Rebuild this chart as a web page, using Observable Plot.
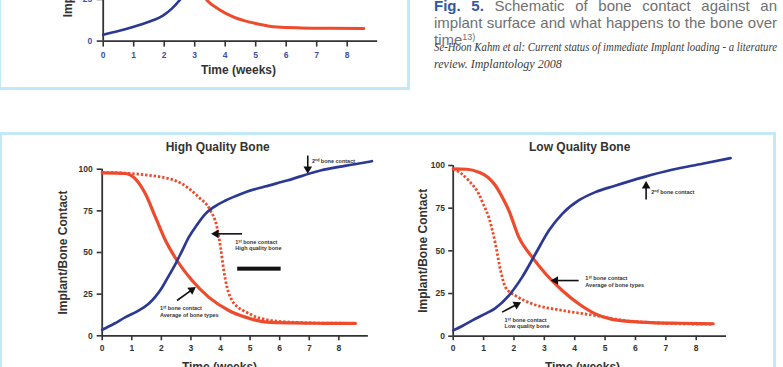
<!DOCTYPE html>
<html>
<head>
<meta charset="utf-8">
<script src="https://cdn.jsdelivr.net/npm/d3@7"></script>
<script src="https://cdn.jsdelivr.net/npm/@observablehq/plot@0.6"></script>
<style>
html, body { margin: 0; padding: 0; background: #fff; }
body { width: 783px; height: 367px; overflow: hidden; position: relative; }
.box { position: absolute; border: 3px solid #c3e8f8; box-sizing: border-box; }
.chart { position: absolute; }
#caption { position: absolute; left: 434px; top: -3px; width: 343px; font-family: "Liberation Sans", Arial, sans-serif; font-size: 15px; line-height: 17px; color: #707070; }
#caption .fig { color: #2d5aa6; font-weight: bold; }
#caption sup { font-size: 9px; line-height: 0; vertical-align: 5px; }
#cite { position: absolute; left: 434px; top: 38.5px; width: 343px; font-family: "Liberation Serif", "Times New Roman", serif; font-style: italic; font-size: 12px; line-height: 17px; color: #3c3c3c; }
.jl { white-space: nowrap; display: inline-block; transform-origin: 0 0; }
.line { height: 17px; white-space: nowrap; }
</style>
</head>
<body>
<div class="box" style="left:-2px; top:-20px; width:412px; height:110px;"></div>
<div class="box" style="left:-1px; top:131.5px; width:777px; height:300px;"></div>

<div id="caption">
  <div class="line"><span class="jl" data-w="343"><span class="fig">Fig. 5.</span> Schematic of bone contact against an</span></div>
  <div class="line"><span class="jl" data-w="343">implant surface and what happens to the bone over</span></div>
  <div class="line">time<sup>13)</sup>.</div>
</div>
<div id="cite">
  <div class="line"><span class="jl" data-w="343">Se-Hoon Kahm et al: Current status of immediate Implant loading - a literature</span></div>
  <div class="line">review. Implantology 2008</div>
</div>

<div id="chartTop" class="chart" style="left:0px; top:-135.9px;"></div>
<div id="chartHQ" class="chart" style="left:0px; top:135px;"></div>
<div id="chartLQ" class="chart" style="left:390px; top:135px;"></div>

<script>
// ---------- data (weeks, implant/bone contact) ----------
const xTicks = [0, 1, 2, 3, 4, 5, 6, 7, 8];
const yTicks = [0, 25, 50, 75, 100];

// Fig. 5 (partially visible chart at top)
const fig5Blue = [[0, 3.8], [0.5, 6], [0.97, 8.4], [1.5, 11.6], [1.97, 15.4], [2.25, 19.5], [2.5, 24.4], [2.7, 29]];
const fig5Red = [[3.3, 27], [3.41, 24.4], [3.8, 19], [4.28, 14.4], [4.65, 12.1], [5.04, 10.4], [5.4, 9.1], [5.7, 8.4], [6.5, 7.9], [7.5, 7.7], [8.55, 7.6]];

// High quality bone
const hqBlue = [[0, 3.6], [0.4, 7.2], [0.79, 11.2], [1.2, 14.8], [1.57, 19.2], [1.8, 23.5], [2.03, 29.2], [2.25, 36], [2.48, 43.2], [2.7, 51], [2.93, 59.2], [3.2, 66.5], [3.49, 73.2], [3.8, 77.6], [4.17, 81.2], [4.5, 83.8], [4.84, 86.2], [5.5, 89.6], [6.25, 93.2], [7.38, 99.2], [8.2, 102], [9.12, 104.8]];
const hqAverage = [[0, 97.8], [0.5, 97.7], [0.79, 97.4], [1.12, 94.2], [1.46, 85.2], [1.8, 71.2], [2.14, 57.2], [2.53, 45.2], [3.04, 33.2], [3.6, 23.2], [4.28, 15.2], [4.84, 11.2], [5.57, 8.2], [6.5, 7.7], [7.5, 7.5], [8.56, 7.4]];
const hqHigh = [[0, 98], [0.6, 97.8], [1.12, 97.2], [1.6, 96.3], [2.03, 95.2], [2.7, 91.2], [3.26, 83.2], [3.66, 75.2], [3.88, 65.2], [4.0, 53.2], [4.11, 39.2], [4.22, 29.2], [4.39, 21.2], [4.6, 17], [4.84, 14.5], [5.35, 10.5], [6.35, 8.2], [7.5, 7.6], [8.56, 7.5]];

// Low quality bone
const lqBlue = [[0, 3.4], [0.3, 6], [0.73, 10.2], [1.1, 13.5], [1.39, 16.5], [1.83, 23.8], [2.27, 34.6], [2.71, 48.3], [3.15, 61.9], [3.59, 71.7], [4.13, 79.5], [4.68, 84.4], [5.3, 88], [6.27, 93.2], [7.2, 97.5], [8.2, 101], [9.13, 104.3]];
const lqAverage = [[0, 98], [0.45, 97.8], [0.84, 96.1], [1.15, 93], [1.39, 88.3], [1.6, 82], [1.83, 73.7], [2.16, 58], [2.6, 46.3], [3.04, 36.6], [3.59, 26.8], [4.13, 19], [4.68, 13.1], [5.2, 10], [5.61, 9], [6.5, 8], [7.5, 7.6], [8.56, 7.3]];
const lqLow = [[0, 98], [0.25, 95.5], [0.51, 91.2], [0.84, 83.4], [1.0, 77], [1.17, 69.7], [1.39, 54.1], [1.56, 38.5], [1.72, 28.7], [2.05, 23.8], [2.6, 19], [3.59, 15.1], [4.68, 12.1], [5.5, 9.5], [6.5, 8], [7.5, 7.3], [8.56, 7]];

// annotations (anchor points in data units)
const hqNotes = [
  {x: 7.09, y: 105.2, text: "2ⁿᵈ bone contact"},
  {x: 4.5, y: 54.6, text: "1ˢᵗ bone contact\nHigh quality bone"},
  {x: 1.95, y: 14.6, text: "1ˢᵗ bone contact\nAverage of bone types"}
];
const hqArrows = [
  {x1: 6.95, y1: 108.2, x2: 6.95, y2: 100.2},
  {x1: 4.73, y1: 61.2, x2: 3.85, y2: 61.2},
  {x1: 2.53, y1: 21.2, x2: 3.03, y2: 27.6}
];
const hqBars = [{x1: 4.58, x2: 6.05, y1: 38.8, y2: 41.2}];

const lqNotes = [
  {x: 6.52, y: 84.8, text: "2ⁿᵈ bone contact"},
  {x: 4.35, y: 32.2, text: "1ˢᵗ bone contact\nAverage of bone types"},
  {x: 1.69, y: 7.7, text: "1ˢᵗ bone contact\nLow quality bone"}
];
const lqArrows = [
  {x1: 6.35, y1: 80.1, x2: 6.35, y2: 88},
  {x1: 4.13, y1: 32.6, x2: 3.37, y2: 32.6},
  {x1: 1.61, y1: 14.1, x2: 2.09, y2: 18.6}
];

const yLabel = "Implant/Bone Contact";
const xLabel = "Time (weeks)";

// ---------- styles ----------
const RED = "#ee4a2c", BLUE = "#2c3992", INK = "#333333", TICKBLUE = "#3d4fa3";
const FONT = "'Liberation Sans', Arial, Helvetica, sans-serif";

function axesMarks({tickPad, tickSize = 5, labelColor = INK}) {
  return [
    Plot.ruleY([0], {stroke: INK, strokeWidth: 1.8}),
    Plot.ruleX([0], {stroke: INK, strokeWidth: 1.8}),
    Plot.axisX({ticks: xTicks, tickSize, tickFormat: () => "", color: INK, strokeWidth: 1.6, label: null}),
    Plot.axisY({ticks: yTicks, tickSize, tickFormat: () => "", color: INK, strokeWidth: 1.6, label: null}),
    Plot.axisX({ticks: xTicks, tickSize: 0, tickPadding: tickSize + tickPad, color: labelColor, fontSize: 8.5, fontWeight: "bold", label: null}),
    Plot.axisY({ticks: yTicks, tickSize: 0, tickPadding: tickSize + tickPad, color: labelColor, fontSize: 8.5, fontWeight: "bold", label: null})
  ];
}

function curve(data, opts) {
  return Plot.line(data, {x: d => d[0], y: d => d[1], curve: "monotone-x", strokeLinejoin: "round", ...opts});
}

// arrows: shaft + filled triangular head; kx, ky = pixels per data unit of the chart
function arrowMarks(arrows, kx, ky) {
  const rot = d => 90 - Math.atan2((d.y2 - d.y1) * ky, (d.x2 - d.x1) * kx) * 180 / Math.PI;
  return [
    Plot.link(arrows, {x1: "x1", y1: "y1", x2: "x2", y2: "y2", stroke: "#111", strokeWidth: 1.6}),
    Plot.dot(arrows, {x: "x2", y: "y2", symbol: "triangle", r: 3.2, fill: "#111", stroke: "none", rotate: rot})
  ];
}

function plotOptions(o) {
  return {
    width: o.width, height: o.height,
    marginLeft: o.ml, marginRight: o.mr, marginTop: o.mt, marginBottom: o.mb,
    x: {domain: [0, 9]},
    y: {domain: [0, 100]},
    style: {fontFamily: FONT, background: "transparent", color: INK, overflow: "visible"}
  };
}
const kxOf = o => (o.width - o.ml - o.mr) / 9;
const kyOf = o => (o.height - o.mt - o.mb) / 100;

// ---------- Fig. 5 (partial) ----------
{
  const o = {width: 405, height: 221.9, ml: 102.7, mr: 27.8, mt: 10, mb: 45.3};
  const p = Plot.plot({
    ...plotOptions(o),
    marks: [
      ...axesMarks({tickPad: 5, tickSize: 6, labelColor: TICKBLUE}),
      curve(fig5Red, {stroke: RED, strokeWidth: 3}),
      curve(fig5Blue, {stroke: BLUE, strokeWidth: 2.6}),
      Plot.text([yLabel], {frameAnchor: "left", rotate: -90, textAnchor: "middle", lineAnchor: "middle", dx: -34.7, dy: -2.5, fontSize: 12, fontWeight: "bold", fill: INK}),
      Plot.text([xLabel], {frameAnchor: "bottom", textAnchor: "middle", lineAnchor: "middle", dx: -2, dy: 29.1, fontSize: 12, fontWeight: "bold", fill: INK})
    ]
  });
  document.getElementById("chartTop").append(p);
}

// ---------- High quality bone ----------
{
  const o = {width: 390, height: 232, ml: 101.7, mr: 22.1, mt: 33.7, mb: 31.7};
  const p = Plot.plot({
    ...plotOptions(o),
    marks: [
      ...axesMarks({tickPad: 4.5}),
      curve(hqHigh, {stroke: RED, strokeWidth: 2.8, strokeDasharray: "2.4,1.9", strokeLinecap: "butt"}),
      curve(hqAverage, {stroke: RED, strokeWidth: 3.2}),
      curve(hqBlue, {stroke: BLUE, strokeWidth: 2.7}),
      Plot.rect(hqBars, {x1: "x1", x2: "x2", y1: "y1", y2: "y2", fill: "#111"}),
      ...arrowMarks(hqArrows, kxOf(o), kyOf(o)),
      Plot.text(hqNotes, {x: "x", y: "y", text: "text", textAnchor: "start", lineAnchor: "middle", fontSize: 5.5, fontWeight: "bold", lineHeight: 1.2, fill: INK}),
      Plot.text(["High Quality Bone"], {frameAnchor: "top", textAnchor: "middle", lineAnchor: "middle", dx: -17.6, dy: -22.2, fontSize: 12, fontWeight: "bold", fill: INK}),
      Plot.text([yLabel], {frameAnchor: "left", rotate: -90, textAnchor: "middle", lineAnchor: "middle", dx: -38.7, fontSize: 12, fontWeight: "bold", fill: INK}),
      Plot.text([xLabel], {frameAnchor: "bottom", textAnchor: "middle", lineAnchor: "middle", dx: -15.8, dy: 31.7, fontSize: 12, fontWeight: "bold", fill: INK})
    ]
  });
  document.getElementById("chartHQ").append(p);
}

// ---------- Low quality bone ----------
{
  const o = {width: 383, height: 232, ml: 62.7, mr: 46.9, mt: 30, mb: 31.3};
  const p = Plot.plot({
    ...plotOptions(o),
    marks: [
      ...axesMarks({tickPad: 3.8, tickSize: 4.5}),
      curve(lqLow, {stroke: RED, strokeWidth: 2.8, strokeDasharray: "2.4,1.9", strokeLinecap: "butt"}),
      curve(lqAverage, {stroke: RED, strokeWidth: 3.2}),
      curve(lqBlue, {stroke: BLUE, strokeWidth: 2.7}),
      ...arrowMarks(lqArrows, kxOf(o), kyOf(o)),
      Plot.text(lqNotes, {x: "x", y: "y", text: "text", textAnchor: "start", lineAnchor: "middle", fontSize: 5.5, fontWeight: "bold", lineHeight: 1.2, fill: INK}),
      Plot.text(["Low Quality Bone"], {frameAnchor: "top", textAnchor: "middle", lineAnchor: "middle", dx: -10.2, dy: -18.5, fontSize: 12, fontWeight: "bold", fill: INK}),
      Plot.text([yLabel], {frameAnchor: "left", rotate: -90, textAnchor: "middle", lineAnchor: "middle", dx: -30.4, fontSize: 12, fontWeight: "bold", fill: INK}),
      Plot.text([xLabel], {frameAnchor: "bottom", textAnchor: "middle", lineAnchor: "middle", dx: -7.4, dy: 31.3, fontSize: 12, fontWeight: "bold", fill: INK})
    ]
  });
  document.getElementById("chartLQ").append(p);
}

// ---------- justify caption lines ----------
document.querySelectorAll(".jl").forEach(el => {
  const W = +el.dataset.w;
  const w = el.getBoundingClientRect().width;
  const spaces = (el.textContent.match(/ /g) || []).length;
  if (w > W) el.style.transform = `scaleX(${W / w})`;
  else if (spaces) el.style.wordSpacing = ((W - w) / spaces) + "px";
});
</script>
</body>
</html>
